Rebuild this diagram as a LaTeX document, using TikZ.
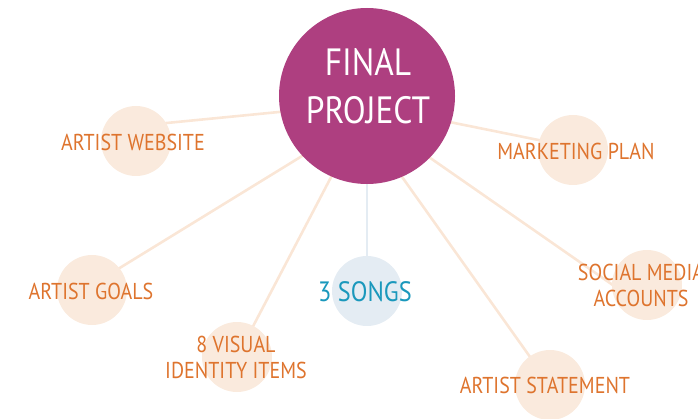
\documentclass[tikz,border=0pt]{standalone}
\usepackage{fontspec}
\newfontfamily\labfont[FakeStretch=0.87]{PT Sans}
\newfontfamily\mainfont[FakeStretch=0.88]{PT Sans}
\pgfdeclarelayer{background}
\pgfsetlayers{background,main}
\definecolor{mag}{RGB}{174,63,128}
\definecolor{peach}{RGB}{250,234,221}
\definecolor{peachline}{RGB}{250,230,214}
\definecolor{orangetxt}{RGB}{222,116,46}
\definecolor{bluetxt}{RGB}{26,152,188}
\definecolor{bluecirc}{RGB}{228,236,243}
\tikzset{
  mainnode/.style={circle, fill=mag, minimum size=176, inner sep=0},
  maintext/.style={text=white, align=center, font=\mainfont\fontsize{38}{48}\selectfont},
  smallnode/.style={circle, fill=peach, minimum size=70, inner sep=0},
  bluenode/.style={circle, fill=bluecirc, minimum size=70, inner sep=0},
  lab/.style={text=orangetxt, align=center, inner sep=0, font=\labfont\fontsize{23}{26}\selectfont},
  bluelab/.style={text=bluetxt, align=center, inner sep=0, font=\labfont\fontsize{28}{30}\selectfont},
  conn/.style={draw=peachline, line width=2.6},
  bconn/.style={draw=bluecirc, line width=2.6},
}
\begin{document}
\begin{tikzpicture}[x=1pt,y=-1pt]
\useasboundingbox (0,0) rectangle (698,419);
% circles
\node[mainnode] (fp) at (367,96) {};
\node[maintext] (fpL) at (368,86) {FINAL\\PROJECT};
\node[smallnode] (ws) at (136,141) {};
\node[smallnode] (mp) at (573,150) {};
\node[smallnode] (sm) at (647,285) {};
\node[smallnode] (ag) at (92,290) {};
\node[bluenode] (sg) at (367,291) {};
\node[smallnode] (vi) at (237,357) {};
\node[smallnode] (st) at (550,385) {};
% labels
\node[lab] (wsL) at (133,142) {ARTIST WEBSITE};
\node[lab] (mpL) at (576,151) {MARKETING PLAN};
\node[lab] (smL) at (641,285) {SOCIAL MEDIA\\ACCOUNTS};
\node[lab] (agL) at (91,291) {ARTIST GOALS};
\node[bluelab] (sgL) at (365,292) {3 SONGS};
\node[lab] (viL) at (236,357) {8 VISUAL\\IDENTITY ITEMS};
\node[lab] (stL) at (545,385) {ARTIST STATEMENT};
% connector ends
\coordinate (wsA) at (330,107);
\coordinate (wsB) at (136,126);
\coordinate (mpA) at (400,112);
\coordinate (mpB) at (573,147);
\coordinate (smA) at (380,123);
\coordinate (smB) at (630,297);
\coordinate (agA) at (320,145);
\coordinate (agB) at (92,285);
\coordinate (viA) at (340,160);
\coordinate (stA) at (390,160);
\begin{pgfonlayer}{background}
\draw[conn] (wsA) -- (wsB);
\draw[conn] (mpA) -- (mpB);
\draw[conn] (smA) -- (smB);
\draw[conn] (agA) -- (agB);
\draw[conn] (viA) -- (vi.center);
\draw[conn] (stA) -- (st.center);
\draw[bconn] (fp.center) -- (sg.center);
\end{pgfonlayer}
\end{tikzpicture}
\end{document}
